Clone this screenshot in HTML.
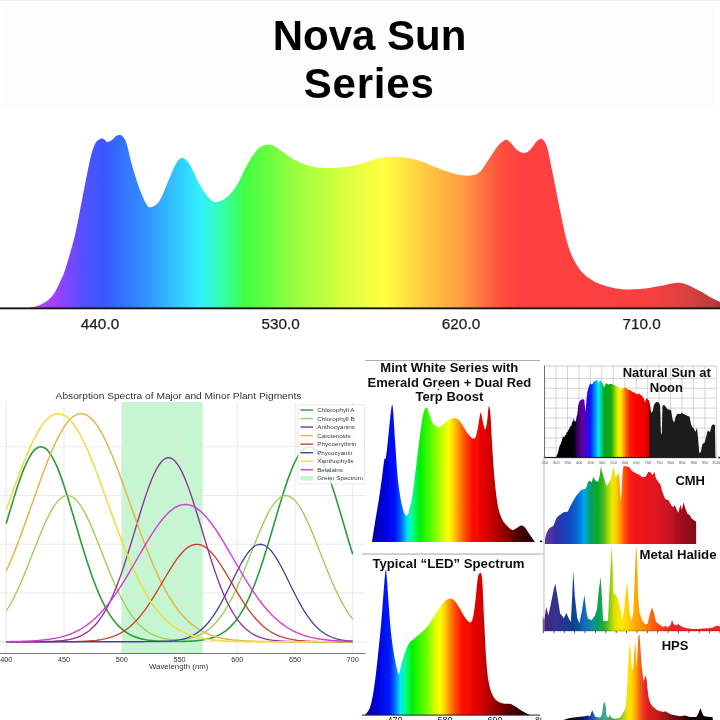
<!DOCTYPE html>
<html><head><meta charset="utf-8"><title>Nova Sun Series</title>
<style>
html,body{margin:0;padding:0;background:#fff;}
body{width:720px;height:720px;overflow:hidden;font-family:"Liberation Sans",sans-serif;}
svg{display:block;font-family:"Liberation Sans",sans-serif;}
</style></head><body>
<svg width="720" height="720" viewBox="0 0 720 720">
<defs>
<filter id="bTop" x="0" y="0" width="720" height="720" filterUnits="userSpaceOnUse"><feGaussianBlur stdDeviation="0.3"/></filter>
<filter id="bBot" x="0" y="0" width="720" height="720" filterUnits="userSpaceOnUse"><feGaussianBlur stdDeviation="0.5"/></filter>
<linearGradient id="gNova" gradientUnits="userSpaceOnUse" x1="27" y1="0" x2="720" y2="0"><stop offset="0.0000" stop-color="#c040e0"/><stop offset="0.0404" stop-color="#a040ff"/><stop offset="0.0837" stop-color="#5050ff"/><stop offset="0.1126" stop-color="#3858ff"/><stop offset="0.1775" stop-color="#3098ff"/><stop offset="0.2496" stop-color="#30f0ff"/><stop offset="0.2814" stop-color="#30ffb0"/><stop offset="0.3146" stop-color="#40ff40"/><stop offset="0.3939" stop-color="#a0ff40"/><stop offset="0.4661" stop-color="#e0ff40"/><stop offset="0.5166" stop-color="#ffff40"/><stop offset="0.5671" stop-color="#ffd040"/><stop offset="0.6248" stop-color="#ffa040"/><stop offset="0.6825" stop-color="#ff5040"/><stop offset="0.7114" stop-color="#ff4040"/><stop offset="0.8990" stop-color="#f84040"/><stop offset="0.9567" stop-color="#d84040"/><stop offset="1.0000" stop-color="#b03838"/></linearGradient>
<linearGradient id="gMint" gradientUnits="userSpaceOnUse" x1="372" y1="0" x2="536" y2="0"><stop offset="0.0000" stop-color="#0000a0"/><stop offset="0.0793" stop-color="#0000e0"/><stop offset="0.1402" stop-color="#0010ff"/><stop offset="0.1829" stop-color="#0070ff"/><stop offset="0.2134" stop-color="#00e0ff"/><stop offset="0.2439" stop-color="#00ff90"/><stop offset="0.2927" stop-color="#00f000"/><stop offset="0.3659" stop-color="#60ff00"/><stop offset="0.4451" stop-color="#e0ff00"/><stop offset="0.4695" stop-color="#ffff00"/><stop offset="0.5061" stop-color="#ffc000"/><stop offset="0.5549" stop-color="#ff6000"/><stop offset="0.6098" stop-color="#ff1000"/><stop offset="0.6890" stop-color="#e00000"/><stop offset="0.7622" stop-color="#b00000"/><stop offset="0.8415" stop-color="#700000"/><stop offset="0.9329" stop-color="#380000"/><stop offset="1.0000" stop-color="#200000"/></linearGradient>
<linearGradient id="gLed" gradientUnits="userSpaceOnUse" x1="365" y1="0" x2="530" y2="0"><stop offset="0.0000" stop-color="#0000a0"/><stop offset="0.0788" stop-color="#0000e0"/><stop offset="0.1515" stop-color="#0020ff"/><stop offset="0.1879" stop-color="#0080ff"/><stop offset="0.2121" stop-color="#00e8ff"/><stop offset="0.2424" stop-color="#00ff90"/><stop offset="0.2848" stop-color="#00f000"/><stop offset="0.3636" stop-color="#60ff00"/><stop offset="0.4303" stop-color="#e0ff00"/><stop offset="0.4545" stop-color="#ffff00"/><stop offset="0.4909" stop-color="#ffc000"/><stop offset="0.5333" stop-color="#ff6000"/><stop offset="0.5879" stop-color="#ff1000"/><stop offset="0.6848" stop-color="#e00000"/><stop offset="0.7576" stop-color="#b00000"/><stop offset="0.8364" stop-color="#700000"/><stop offset="0.9273" stop-color="#380000"/><stop offset="1.0000" stop-color="#200000"/></linearGradient>
<clipPath id="cLed"><rect x="362" y="540" width="179.5" height="180"/></clipPath>
<linearGradient id="gSun" gradientUnits="userSpaceOnUse" x1="556" y1="0" x2="716" y2="0"><stop offset="0.0000" stop-color="#000000"/><stop offset="0.1125" stop-color="#060008"/><stop offset="0.1344" stop-color="#3a0068"/><stop offset="0.1562" stop-color="#5a0098"/><stop offset="0.1812" stop-color="#5800c0"/><stop offset="0.2000" stop-color="#2808e8"/><stop offset="0.2188" stop-color="#0028ff"/><stop offset="0.2437" stop-color="#0090ff"/><stop offset="0.2656" stop-color="#00e8ff"/><stop offset="0.2812" stop-color="#00d890"/><stop offset="0.3000" stop-color="#00a828"/><stop offset="0.3438" stop-color="#18a810"/><stop offset="0.3656" stop-color="#80d000"/><stop offset="0.3875" stop-color="#e8f000"/><stop offset="0.4031" stop-color="#fff000"/><stop offset="0.4188" stop-color="#ffb000"/><stop offset="0.4344" stop-color="#ff7000"/><stop offset="0.4562" stop-color="#ff2800"/><stop offset="0.4813" stop-color="#ff0800"/><stop offset="0.5563" stop-color="#f00000"/><stop offset="0.5769" stop-color="#d80000"/><stop offset="0.5906" stop-color="#1c0404"/><stop offset="0.6000" stop-color="#1a1a1a"/><stop offset="1.0000" stop-color="#1a1a1a"/></linearGradient>
<linearGradient id="gCmh" gradientUnits="userSpaceOnUse" x1="544.9" y1="0" x2="696.2" y2="0"><stop offset="0.0000" stop-color="#6c30a4"/><stop offset="0.0271" stop-color="#5a30a4"/><stop offset="0.0601" stop-color="#3a30a4"/><stop offset="0.1064" stop-color="#2838b0"/><stop offset="0.1527" stop-color="#1048c0"/><stop offset="0.2056" stop-color="#0860d0"/><stop offset="0.2320" stop-color="#0480e0"/><stop offset="0.2551" stop-color="#00a0f0"/><stop offset="0.2716" stop-color="#00a8b8"/><stop offset="0.2915" stop-color="#00a080"/><stop offset="0.3179" stop-color="#08a048"/><stop offset="0.3510" stop-color="#10a828"/><stop offset="0.3840" stop-color="#40b818"/><stop offset="0.4171" stop-color="#a0d808"/><stop offset="0.4402" stop-color="#e0e800"/><stop offset="0.4587" stop-color="#f8e000"/><stop offset="0.4798" stop-color="#ffc000"/><stop offset="0.4997" stop-color="#ff9000"/><stop offset="0.5195" stop-color="#ff6008"/><stop offset="0.5393" stop-color="#ff3c10"/><stop offset="0.5625" stop-color="#f82018"/><stop offset="0.6021" stop-color="#f01418"/><stop offset="0.7277" stop-color="#e41820"/><stop offset="0.8136" stop-color="#c81420"/><stop offset="0.8797" stop-color="#ac1020"/><stop offset="0.9458" stop-color="#90101c"/><stop offset="1.0000" stop-color="#7c1018"/></linearGradient>
<linearGradient id="gMh" gradientUnits="userSpaceOnUse" x1="542.8" y1="0" x2="720" y2="0"><stop offset="0.0000" stop-color="#4c2080"/><stop offset="0.0293" stop-color="#3c2888"/><stop offset="0.0632" stop-color="#383090"/><stop offset="0.1084" stop-color="#283490"/><stop offset="0.1704" stop-color="#104090"/><stop offset="0.2099" stop-color="#1058a8"/><stop offset="0.2353" stop-color="#1070c0"/><stop offset="0.2607" stop-color="#1080b0"/><stop offset="0.2822" stop-color="#1090a0"/><stop offset="0.3002" stop-color="#109878"/><stop offset="0.3211" stop-color="#10a450"/><stop offset="0.3454" stop-color="#28b030"/><stop offset="0.3679" stop-color="#60c418"/><stop offset="0.3849" stop-color="#98d40c"/><stop offset="0.4018" stop-color="#d0e004"/><stop offset="0.4233" stop-color="#f4e800"/><stop offset="0.4526" stop-color="#ffe400"/><stop offset="0.4780" stop-color="#ffd000"/><stop offset="0.5260" stop-color="#ffa800"/><stop offset="0.5767" stop-color="#ff8800"/><stop offset="0.6163" stop-color="#ff6010"/><stop offset="0.6727" stop-color="#f84018"/><stop offset="0.7348" stop-color="#f02020"/><stop offset="1.0000" stop-color="#ec2020"/></linearGradient>
<linearGradient id="gHps" gradientUnits="userSpaceOnUse" x1="562" y1="0" x2="713" y2="0"><stop offset="0.0000" stop-color="#000010"/><stop offset="0.0861" stop-color="#060c30"/><stop offset="0.1523" stop-color="#0c1c68"/><stop offset="0.1854" stop-color="#1840a8"/><stop offset="0.2020" stop-color="#2050c0"/><stop offset="0.2318" stop-color="#2878b0"/><stop offset="0.2583" stop-color="#3498a0"/><stop offset="0.2808" stop-color="#40a890"/><stop offset="0.2980" stop-color="#40a870"/><stop offset="0.3179" stop-color="#40a850"/><stop offset="0.3576" stop-color="#58b438"/><stop offset="0.3841" stop-color="#80c428"/><stop offset="0.4089" stop-color="#a8d420"/><stop offset="0.4272" stop-color="#e0e008"/><stop offset="0.4421" stop-color="#ffe000"/><stop offset="0.4586" stop-color="#ffdc00"/><stop offset="0.4752" stop-color="#ffc000"/><stop offset="0.4960" stop-color="#ff9000"/><stop offset="0.5166" stop-color="#f06020"/><stop offset="0.5364" stop-color="#ec3c20"/><stop offset="0.5579" stop-color="#e82020"/><stop offset="0.5960" stop-color="#d41c1c"/><stop offset="0.6407" stop-color="#c01818"/><stop offset="0.6821" stop-color="#a01414"/><stop offset="0.7235" stop-color="#801010"/><stop offset="0.7815" stop-color="#500808"/><stop offset="0.8344" stop-color="#280404"/><stop offset="0.8874" stop-color="#080000"/><stop offset="1.0000" stop-color="#000000"/></linearGradient>
</defs>
<rect width="720" height="720" fill="#ffffff"/>
<rect x="3" y="2" width="711" height="106" fill="#fdfdfd"/>
<rect x="0" y="0" width="720" height="1" fill="#eeeeee"/>
<g filter="url(#bTop)"><path d="M24.00,308.50 C25.67,308.25 30.83,307.83 34.00,307.00 C37.17,306.17 40.33,304.92 43.00,303.50 C45.67,302.08 48.00,300.42 50.00,298.50 C52.00,296.58 53.33,294.75 55.00,292.00 C56.67,289.25 58.33,285.67 60.00,282.00 C61.67,278.33 62.50,277.83 65.00,270.00 C67.50,262.17 72.17,246.67 75.00,235.00 C77.83,223.33 79.50,212.50 82.00,200.00 C84.50,187.50 87.83,169.33 90.00,160.00 C92.17,150.67 93.33,147.50 95.00,144.00 C96.67,140.50 98.50,139.83 100.00,139.00 C101.50,138.17 102.83,138.50 104.00,139.00 C105.17,139.50 105.67,141.83 107.00,142.00 C108.33,142.17 110.50,141.00 112.00,140.00 C113.50,139.00 114.67,136.83 116.00,136.00 C117.33,135.17 118.67,134.67 120.00,135.00 C121.33,135.33 122.83,136.33 124.00,138.00 C125.17,139.67 125.67,140.50 127.00,145.00 C128.33,149.50 129.83,157.50 132.00,165.00 C134.17,172.50 137.50,183.33 140.00,190.00 C142.50,196.67 145.00,202.17 147.00,205.00 C149.00,207.83 149.83,207.83 152.00,207.00 C154.17,206.17 157.00,205.00 160.00,200.00 C163.00,195.00 167.17,183.33 170.00,177.00 C172.83,170.67 174.83,165.17 177.00,162.00 C179.17,158.83 180.83,157.50 183.00,158.00 C185.17,158.50 187.17,160.50 190.00,165.00 C192.83,169.50 196.67,179.33 200.00,185.00 C203.33,190.67 207.17,196.17 210.00,199.00 C212.83,201.83 214.17,202.33 217.00,202.00 C219.83,201.67 223.67,199.83 227.00,197.00 C230.33,194.17 233.67,190.33 237.00,185.00 C240.33,179.67 243.67,170.83 247.00,165.00 C250.33,159.17 254.00,153.33 257.00,150.00 C260.00,146.67 262.50,145.83 265.00,145.00 C267.50,144.17 269.50,144.17 272.00,145.00 C274.50,145.83 276.17,147.50 280.00,150.00 C283.83,152.50 290.00,157.33 295.00,160.00 C300.00,162.67 305.00,164.67 310.00,166.00 C315.00,167.33 319.17,167.83 325.00,168.00 C330.83,168.17 339.17,167.67 345.00,167.00 C350.83,166.33 354.17,165.50 360.00,164.00 C365.83,162.50 373.33,159.17 380.00,158.00 C386.67,156.83 393.33,156.50 400.00,157.00 C406.67,157.50 413.33,159.00 420.00,161.00 C426.67,163.00 433.33,166.67 440.00,169.00 C446.67,171.33 453.83,174.17 460.00,175.00 C466.17,175.83 472.50,176.17 477.00,174.00 C481.50,171.83 483.67,166.50 487.00,162.00 C490.33,157.50 494.00,150.67 497.00,147.00 C500.00,143.33 502.83,140.83 505.00,140.00 C507.17,139.17 508.00,140.33 510.00,142.00 C512.00,143.67 514.67,148.17 517.00,150.00 C519.33,151.83 521.83,153.00 524.00,153.00 C526.17,153.00 527.83,152.00 530.00,150.00 C532.17,148.00 535.00,142.83 537.00,141.00 C539.00,139.17 540.33,138.00 542.00,139.00 C543.67,140.00 545.33,141.83 547.00,147.00 C548.67,152.17 549.83,159.50 552.00,170.00 C554.17,180.50 557.50,198.00 560.00,210.00 C562.50,222.00 564.50,233.33 567.00,242.00 C569.50,250.67 572.00,256.50 575.00,262.00 C578.00,267.50 580.83,271.33 585.00,275.00 C589.17,278.67 594.17,281.67 600.00,284.00 C605.83,286.33 613.33,288.17 620.00,289.00 C626.67,289.83 633.33,289.50 640.00,289.00 C646.67,288.50 654.17,287.00 660.00,286.00 C665.83,285.00 670.83,283.33 675.00,283.00 C679.17,282.67 680.83,282.67 685.00,284.00 C689.17,285.33 695.83,288.83 700.00,291.00 C704.17,293.17 706.67,295.17 710.00,297.00 C713.33,298.83 718.33,301.17 720.00,302.00 L720.00,308.50 L24.00,308.50 Z" fill="url(#gNova)"/>
<rect x="0" y="307.4" width="720" height="1.9" fill="#151515"/>
<text x="100" y="328.5" font-size="15.3" text-anchor="middle" fill="#1c1c1c" stroke="#1c1c1c" stroke-width="0.25">440.0</text>
<text x="280.7" y="328.5" font-size="15.3" text-anchor="middle" fill="#1c1c1c" stroke="#1c1c1c" stroke-width="0.25">530.0</text>
<text x="461" y="328.5" font-size="15.3" text-anchor="middle" fill="#1c1c1c" stroke="#1c1c1c" stroke-width="0.25">620.0</text>
<text x="641.7" y="328.5" font-size="15.3" text-anchor="middle" fill="#1c1c1c" stroke="#1c1c1c" stroke-width="0.25">710.0</text>
<text x="369.5" y="50" font-size="42" font-weight="bold" text-anchor="middle" fill="#000">Nova Sun</text>
<text x="369.2" y="97.5" font-size="42" font-weight="bold" text-anchor="middle" fill="#000" letter-spacing="0.8">Series</text></g>
<g filter="url(#bBot)"><rect x="121.75" y="402" width="80.85" height="251.5" fill="#c6f5d2"/>
<line x1="6.25" y1="402" x2="6.25" y2="653.5" stroke="#e6e6e6" stroke-width="0.8"/>
<line x1="64.00" y1="402" x2="64.00" y2="653.5" stroke="#e6e6e6" stroke-width="0.8"/>
<line x1="121.75" y1="402" x2="121.75" y2="653.5" stroke="#e6e6e6" stroke-width="0.8"/>
<line x1="179.50" y1="402" x2="179.50" y2="653.5" stroke="#e6e6e6" stroke-width="0.8"/>
<line x1="237.25" y1="402" x2="237.25" y2="653.5" stroke="#e6e6e6" stroke-width="0.8"/>
<line x1="295.00" y1="402" x2="295.00" y2="653.5" stroke="#e6e6e6" stroke-width="0.8"/>
<line x1="352.75" y1="402" x2="352.75" y2="653.5" stroke="#e6e6e6" stroke-width="0.8"/>
<line x1="0" y1="641.75" x2="365.5" y2="641.75" stroke="#e6e6e6" stroke-width="0.8"/>
<line x1="0" y1="593.00" x2="365.5" y2="593.00" stroke="#e6e6e6" stroke-width="0.8"/>
<line x1="0" y1="544.25" x2="365.5" y2="544.25" stroke="#e6e6e6" stroke-width="0.8"/>
<line x1="0" y1="495.50" x2="365.5" y2="495.50" stroke="#e6e6e6" stroke-width="0.8"/>
<line x1="0" y1="446.75" x2="365.5" y2="446.75" stroke="#e6e6e6" stroke-width="0.8"/>
<path d="M6.25,523.48 L8.56,515.60 L10.87,507.80 L13.18,500.15 L15.49,492.73 L17.80,485.61 L20.11,478.87 L22.42,472.60 L24.73,466.87 L27.04,461.74 L29.35,457.29 L31.66,453.56 L33.97,450.61 L36.28,448.48 L38.59,447.18 L40.90,446.75 L43.21,447.18 L45.52,448.48 L47.83,450.61 L50.14,453.56 L52.45,457.29 L54.76,461.74 L57.07,466.87 L59.38,472.60 L61.69,478.87 L64.00,485.61 L66.31,492.73 L68.62,500.15 L70.93,507.80 L73.24,515.60 L75.55,523.48 L77.86,531.35 L80.17,539.16 L82.48,546.83 L84.79,554.33 L87.10,561.58 L89.41,568.56 L91.72,575.23 L94.03,581.56 L96.34,587.53 L98.65,593.13 L100.96,598.34 L103.27,603.16 L105.58,607.60 L107.89,611.66 L110.20,615.36 L112.51,618.71 L114.82,621.72 L117.13,624.41 L119.44,626.81 L121.75,628.93 L124.06,630.80 L126.37,632.44 L128.68,633.87 L130.99,635.11 L133.30,636.18 L135.61,637.10 L137.92,637.88 L140.23,638.55 L142.54,639.11 L144.85,639.58 L147.16,639.98 L149.47,640.31 L151.78,640.58 L154.09,640.80 L156.40,640.98 L158.71,641.13 L161.02,641.25 L163.33,641.34 L165.64,641.41 L167.95,641.47 L170.26,641.50 L172.57,641.52 L174.88,641.53 L177.19,641.52 L179.50,641.50 L181.81,641.47 L184.12,641.41 L186.43,641.34 L188.74,641.25 L191.05,641.13 L193.36,640.98 L195.67,640.80 L197.98,640.58 L200.29,640.31 L202.60,639.98 L204.91,639.58 L207.22,639.11 L209.53,638.55 L211.84,637.88 L214.15,637.10 L216.46,636.18 L218.77,635.11 L221.08,633.87 L223.39,632.44 L225.70,630.80 L228.01,628.93 L230.32,626.81 L232.63,624.41 L234.94,621.72 L237.25,618.71 L239.56,615.36 L241.87,611.66 L244.18,607.60 L246.49,603.16 L248.80,598.34 L251.11,593.13 L253.42,587.53 L255.73,581.56 L258.04,575.23 L260.35,568.56 L262.66,561.58 L264.97,554.33 L267.28,546.83 L269.59,539.16 L271.90,531.35 L274.21,523.48 L276.52,515.60 L278.83,507.80 L281.14,500.15 L283.45,492.73 L285.76,485.61 L288.07,478.87 L290.38,472.60 L292.69,466.87 L295.00,461.74 L297.31,457.29 L299.62,453.56 L301.93,450.61 L304.24,448.48 L306.55,447.18 L308.86,446.75 L311.17,447.18 L313.48,448.48 L315.79,450.61 L318.10,453.56 L320.41,457.29 L322.72,461.74 L325.03,466.87 L327.34,472.60 L329.65,478.87 L331.96,485.61 L334.27,492.73 L336.58,500.15 L338.89,507.80 L341.20,515.60 L343.51,523.48 L345.82,531.35 L348.13,539.16 L350.44,546.83 L352.75,554.33" fill="none" stroke="#2a9d3a" stroke-width="1.6"/>
<path d="M6.25,611.03 L8.56,607.27 L10.87,603.22 L13.18,598.88 L15.49,594.27 L17.80,589.39 L20.11,584.27 L22.42,578.93 L24.73,573.39 L27.04,567.70 L29.35,561.89 L31.66,556.00 L33.97,550.09 L36.28,544.20 L38.59,538.40 L40.90,532.74 L43.21,527.28 L45.52,522.08 L47.83,517.19 L50.14,512.68 L52.45,508.61 L54.76,505.01 L57.07,501.94 L59.38,499.43 L61.69,497.52 L64.00,496.23 L66.31,495.58 L68.62,495.58 L70.93,496.23 L73.24,497.52 L75.55,499.43 L77.86,501.94 L80.17,505.01 L82.48,508.61 L84.79,512.68 L87.10,517.19 L89.41,522.08 L91.72,527.28 L94.03,532.74 L96.34,538.40 L98.65,544.20 L100.96,550.09 L103.27,556.00 L105.58,561.89 L107.89,567.70 L110.20,573.39 L112.51,578.93 L114.82,584.27 L117.13,589.39 L119.44,594.27 L121.75,598.88 L124.06,603.22 L126.37,607.27 L128.68,611.03 L130.99,614.50 L133.30,617.69 L135.61,620.59 L137.92,623.23 L140.23,625.60 L142.54,627.73 L144.85,629.63 L147.16,631.32 L149.47,632.80 L151.78,634.09 L154.09,635.22 L156.40,636.19 L158.71,637.01 L161.02,637.71 L163.33,638.28 L165.64,638.75 L167.95,639.12 L170.26,639.39 L172.57,639.58 L174.88,639.68 L177.19,639.70 L179.50,639.64 L181.81,639.49 L184.12,639.26 L186.43,638.94 L188.74,638.53 L191.05,638.01 L193.36,637.37 L195.67,636.61 L197.98,635.72 L200.29,634.68 L202.60,633.47 L204.91,632.08 L207.22,630.50 L209.53,628.71 L211.84,626.70 L214.15,624.45 L216.46,621.94 L218.77,619.17 L221.08,616.13 L223.39,612.80 L225.70,609.19 L228.01,605.28 L230.32,601.08 L232.63,596.61 L234.94,591.86 L237.25,586.86 L239.56,581.62 L241.87,576.18 L244.18,570.56 L246.49,564.80 L248.80,558.95 L251.11,553.04 L253.42,547.14 L255.73,541.29 L258.04,535.55 L260.35,529.98 L262.66,524.64 L264.97,519.59 L267.28,514.89 L269.59,510.59 L271.90,506.74 L274.21,503.40 L276.52,500.61 L278.83,498.40 L281.14,496.79 L283.45,495.82 L285.76,495.50 L288.07,495.82 L290.38,496.79 L292.69,498.40 L295.00,500.61 L297.31,503.40 L299.62,506.74 L301.93,510.59 L304.24,514.89 L306.55,519.59 L308.86,524.64 L311.17,529.98 L313.48,535.55 L315.79,541.29 L318.10,547.14 L320.41,553.04 L322.72,558.95 L325.03,564.80 L327.34,570.56 L329.65,576.18 L331.96,581.62 L334.27,586.86 L336.58,591.86 L338.89,596.61 L341.20,601.09 L343.51,605.28 L345.82,609.19 L348.13,612.81 L350.44,616.14 L352.75,619.18" fill="none" stroke="#9acd50" stroke-width="1.3"/>
<path d="M6.25,641.75 L8.56,641.75 L10.87,641.75 L13.18,641.75 L15.49,641.74 L17.80,641.74 L20.11,641.74 L22.42,641.74 L24.73,641.73 L27.04,641.73 L29.35,641.72 L31.66,641.71 L33.97,641.69 L36.28,641.67 L38.59,641.65 L40.90,641.62 L43.21,641.58 L45.52,641.53 L47.83,641.47 L50.14,641.39 L52.45,641.30 L54.76,641.17 L57.07,641.02 L59.38,640.84 L61.69,640.61 L64.00,640.34 L66.31,640.00 L68.62,639.60 L70.93,639.11 L73.24,638.53 L75.55,637.84 L77.86,637.03 L80.17,636.08 L82.48,634.96 L84.79,633.66 L87.10,632.17 L89.41,630.44 L91.72,628.47 L94.03,626.24 L96.34,623.71 L98.65,620.87 L100.96,617.69 L103.27,614.17 L105.58,610.27 L107.89,606.00 L110.20,601.35 L112.51,596.30 L114.82,590.86 L117.13,585.05 L119.44,578.87 L121.75,572.35 L124.06,565.51 L126.37,558.40 L128.68,551.06 L130.99,543.54 L133.30,535.90 L135.61,528.21 L137.92,520.53 L140.23,512.95 L142.54,505.55 L144.85,498.41 L147.16,491.60 L149.47,485.22 L151.78,479.34 L154.09,474.04 L156.40,469.39 L158.71,465.46 L161.02,462.28 L163.33,459.92 L165.64,458.40 L167.95,457.75 L170.26,457.96 L172.57,459.05 L174.88,461.00 L177.19,463.77 L179.50,467.33 L181.81,471.63 L184.12,476.62 L186.43,482.21 L188.74,488.35 L191.05,494.96 L193.36,501.94 L195.67,509.22 L197.98,516.73 L200.29,524.36 L202.60,532.05 L204.91,539.73 L207.22,547.32 L209.53,554.76 L211.84,561.99 L214.15,568.97 L216.46,575.65 L218.77,582.00 L221.08,588.00 L223.39,593.63 L225.70,598.87 L228.01,603.72 L230.32,608.19 L232.63,612.27 L234.94,615.97 L237.25,619.32 L239.56,622.33 L241.87,625.01 L244.18,627.39 L246.49,629.49 L248.80,631.33 L251.11,632.94 L253.42,634.34 L255.73,635.54 L258.04,636.57 L260.35,637.45 L262.66,638.20 L264.97,638.83 L267.28,639.37 L269.59,639.81 L271.90,640.18 L274.21,640.48 L276.52,640.73 L278.83,640.94 L281.14,641.10 L283.45,641.24 L285.76,641.35 L288.07,641.43 L290.38,641.50 L292.69,641.56 L295.00,641.60 L297.31,641.64 L299.62,641.66 L301.93,641.68 L304.24,641.70 L306.55,641.71 L308.86,641.72 L311.17,641.73 L313.48,641.73 L315.79,641.74 L318.10,641.74 L320.41,641.74 L322.72,641.75 L325.03,641.75 L327.34,641.75 L329.65,641.75 L331.96,641.75 L334.27,641.75 L336.58,641.75 L338.89,641.75 L341.20,641.75 L343.51,641.75 L345.82,641.75 L348.13,641.75 L350.44,641.75 L352.75,641.75" fill="none" stroke="#8b2f8b" stroke-width="1.3"/>
<path d="M6.25,571.18 L8.56,565.96 L10.87,560.54 L13.18,554.93 L15.49,549.13 L17.80,543.17 L20.11,537.06 L22.42,530.82 L24.73,524.47 L27.04,518.04 L29.35,511.54 L31.66,505.01 L33.97,498.47 L36.28,491.95 L38.59,485.48 L40.90,479.10 L43.21,472.84 L45.52,466.73 L47.83,460.80 L50.14,455.09 L52.45,449.63 L54.76,444.45 L57.07,439.58 L59.38,435.06 L61.69,430.90 L64.00,427.15 L66.31,423.81 L68.62,420.92 L70.93,418.48 L73.24,416.53 L75.55,415.06 L77.86,414.10 L80.17,413.64 L82.48,413.69 L84.79,414.25 L87.10,415.32 L89.41,416.88 L91.72,418.93 L94.03,421.46 L96.34,424.44 L98.65,427.86 L100.96,431.70 L103.27,435.93 L105.58,440.53 L107.89,445.46 L110.20,450.70 L112.51,456.21 L114.82,461.97 L117.13,467.94 L119.44,474.08 L121.75,480.37 L124.06,486.77 L126.37,493.25 L128.68,499.77 L130.99,506.31 L133.30,512.84 L135.61,519.33 L137.92,525.75 L140.23,532.08 L142.54,538.30 L144.85,544.38 L147.16,550.31 L149.47,556.07 L151.78,561.64 L154.09,567.02 L156.40,572.20 L158.71,577.16 L161.02,581.90 L163.33,586.42 L165.64,590.71 L167.95,594.77 L170.26,598.60 L172.57,602.22 L174.88,605.61 L177.19,608.78 L179.50,611.74 L181.81,614.50 L184.12,617.06 L186.43,619.42 L188.74,621.61 L191.05,623.62 L193.36,625.47 L195.67,627.16 L197.98,628.71 L200.29,630.12 L202.60,631.40 L204.91,632.55 L207.22,633.60 L209.53,634.55 L211.84,635.40 L214.15,636.16 L216.46,636.84 L218.77,637.45 L221.08,637.99 L223.39,638.47 L225.70,638.89 L228.01,639.27 L230.32,639.60 L232.63,639.89 L234.94,640.15 L237.25,640.37 L239.56,640.56 L241.87,640.73 L244.18,640.88 L246.49,641.01 L248.80,641.12 L251.11,641.21 L253.42,641.30 L255.73,641.37 L258.04,641.43 L260.35,641.48 L262.66,641.52 L264.97,641.56 L267.28,641.59 L269.59,641.62 L271.90,641.64 L274.21,641.66 L276.52,641.67 L278.83,641.69 L281.14,641.70 L283.45,641.71 L285.76,641.71 L288.07,641.72 L290.38,641.73 L292.69,641.73 L295.00,641.73 L297.31,641.74 L299.62,641.74 L301.93,641.74 L304.24,641.74 L306.55,641.74 L308.86,641.75 L311.17,641.75 L313.48,641.75 L315.79,641.75 L318.10,641.75 L320.41,641.75 L322.72,641.75 L325.03,641.75 L327.34,641.75 L329.65,641.75 L331.96,641.75 L334.27,641.75 L336.58,641.75 L338.89,641.75 L341.20,641.75 L343.51,641.75 L345.82,641.75 L348.13,641.75 L350.44,641.75 L352.75,641.75" fill="none" stroke="#e3b450" stroke-width="1.5"/>
<path d="M6.25,641.75 L8.56,641.75 L10.87,641.75 L13.18,641.75 L15.49,641.75 L17.80,641.75 L20.11,641.75 L22.42,641.75 L24.73,641.75 L27.04,641.75 L29.35,641.75 L31.66,641.75 L33.97,641.75 L36.28,641.75 L38.59,641.75 L40.90,641.75 L43.21,641.74 L45.52,641.74 L47.83,641.74 L50.14,641.74 L52.45,641.73 L54.76,641.73 L57.07,641.72 L59.38,641.71 L61.69,641.70 L64.00,641.69 L66.31,641.67 L68.62,641.65 L70.93,641.62 L73.24,641.58 L75.55,641.54 L77.86,641.48 L80.17,641.41 L82.48,641.33 L84.79,641.23 L87.10,641.10 L89.41,640.95 L91.72,640.77 L94.03,640.55 L96.34,640.30 L98.65,639.99 L100.96,639.63 L103.27,639.20 L105.58,638.71 L107.89,638.13 L110.20,637.47 L112.51,636.70 L114.82,635.82 L117.13,634.83 L119.44,633.70 L121.75,632.43 L124.06,631.00 L126.37,629.41 L128.68,627.65 L130.99,625.71 L133.30,623.59 L135.61,621.27 L137.92,618.76 L140.23,616.06 L142.54,613.17 L144.85,610.10 L147.16,606.84 L149.47,603.43 L151.78,599.87 L154.09,596.18 L156.40,592.38 L158.71,588.51 L161.02,584.58 L163.33,580.64 L165.64,576.72 L167.95,572.85 L170.26,569.08 L172.57,565.44 L174.88,561.97 L177.19,558.71 L179.50,555.71 L181.81,552.99 L184.12,550.59 L186.43,548.54 L188.74,546.87 L191.05,545.59 L193.36,544.74 L195.67,544.30 L197.98,544.30 L200.29,544.74 L202.60,545.59 L204.91,546.87 L207.22,548.54 L209.53,550.59 L211.84,552.99 L214.15,555.71 L216.46,558.71 L218.77,561.97 L221.08,565.44 L223.39,569.08 L225.70,572.85 L228.01,576.72 L230.32,580.64 L232.63,584.58 L234.94,588.51 L237.25,592.38 L239.56,596.18 L241.87,599.87 L244.18,603.43 L246.49,606.84 L248.80,610.10 L251.11,613.17 L253.42,616.06 L255.73,618.76 L258.04,621.27 L260.35,623.59 L262.66,625.71 L264.97,627.65 L267.28,629.41 L269.59,631.00 L271.90,632.43 L274.21,633.70 L276.52,634.83 L278.83,635.82 L281.14,636.70 L283.45,637.47 L285.76,638.13 L288.07,638.71 L290.38,639.20 L292.69,639.63 L295.00,639.99 L297.31,640.30 L299.62,640.55 L301.93,640.77 L304.24,640.95 L306.55,641.10 L308.86,641.23 L311.17,641.33 L313.48,641.41 L315.79,641.48 L318.10,641.54 L320.41,641.58 L322.72,641.62 L325.03,641.65 L327.34,641.67 L329.65,641.69 L331.96,641.70 L334.27,641.71 L336.58,641.72 L338.89,641.73 L341.20,641.73 L343.51,641.74 L345.82,641.74 L348.13,641.74 L350.44,641.74 L352.75,641.75" fill="none" stroke="#c8402c" stroke-width="1.3"/>
<path d="M6.25,641.75 L8.56,641.75 L10.87,641.75 L13.18,641.75 L15.49,641.75 L17.80,641.75 L20.11,641.75 L22.42,641.75 L24.73,641.75 L27.04,641.75 L29.35,641.75 L31.66,641.75 L33.97,641.75 L36.28,641.75 L38.59,641.75 L40.90,641.75 L43.21,641.75 L45.52,641.75 L47.83,641.75 L50.14,641.75 L52.45,641.75 L54.76,641.75 L57.07,641.75 L59.38,641.75 L61.69,641.75 L64.00,641.75 L66.31,641.75 L68.62,641.75 L70.93,641.75 L73.24,641.75 L75.55,641.75 L77.86,641.75 L80.17,641.75 L82.48,641.75 L84.79,641.75 L87.10,641.75 L89.41,641.75 L91.72,641.75 L94.03,641.75 L96.34,641.75 L98.65,641.75 L100.96,641.75 L103.27,641.75 L105.58,641.75 L107.89,641.75 L110.20,641.75 L112.51,641.75 L114.82,641.75 L117.13,641.75 L119.44,641.75 L121.75,641.75 L124.06,641.75 L126.37,641.75 L128.68,641.75 L130.99,641.75 L133.30,641.74 L135.61,641.74 L137.92,641.74 L140.23,641.73 L142.54,641.73 L144.85,641.72 L147.16,641.71 L149.47,641.69 L151.78,641.67 L154.09,641.64 L156.40,641.60 L158.71,641.55 L161.02,641.49 L163.33,641.41 L165.64,641.30 L167.95,641.17 L170.26,641.00 L172.57,640.79 L174.88,640.53 L177.19,640.21 L179.50,639.82 L181.81,639.34 L184.12,638.76 L186.43,638.07 L188.74,637.25 L191.05,636.28 L193.36,635.14 L195.67,633.82 L197.98,632.29 L200.29,630.54 L202.60,628.55 L204.91,626.31 L207.22,623.81 L209.53,621.03 L211.84,617.97 L214.15,614.64 L216.46,611.04 L218.77,607.18 L221.08,603.08 L223.39,598.77 L225.70,594.29 L228.01,589.68 L230.32,584.98 L232.63,580.25 L234.94,575.55 L237.25,570.95 L239.56,566.51 L241.87,562.31 L244.18,558.40 L246.49,554.86 L248.80,551.75 L251.11,549.12 L253.42,547.02 L255.73,545.49 L258.04,544.56 L260.35,544.25 L262.66,544.56 L264.97,545.49 L267.28,547.02 L269.59,549.12 L271.90,551.75 L274.21,554.86 L276.52,558.40 L278.83,562.31 L281.14,566.51 L283.45,570.95 L285.76,575.55 L288.07,580.25 L290.38,584.98 L292.69,589.68 L295.00,594.29 L297.31,598.77 L299.62,603.08 L301.93,607.18 L304.24,611.04 L306.55,614.64 L308.86,617.97 L311.17,621.03 L313.48,623.81 L315.79,626.31 L318.10,628.55 L320.41,630.54 L322.72,632.29 L325.03,633.82 L327.34,635.14 L329.65,636.28 L331.96,637.25 L334.27,638.07 L336.58,638.76 L338.89,639.34 L341.20,639.82 L343.51,640.21 L345.82,640.53 L348.13,640.79 L350.44,641.00 L352.75,641.17" fill="none" stroke="#4a3f98" stroke-width="1.3"/>
<path d="M6.25,509.80 L8.56,503.37 L10.87,496.94 L13.18,490.54 L15.49,484.19 L17.80,477.93 L20.11,471.80 L22.42,465.81 L24.73,460.01 L27.04,454.42 L29.35,449.08 L31.66,444.01 L33.97,439.25 L36.28,434.82 L38.59,430.75 L40.90,427.07 L43.21,423.79 L45.52,420.94 L47.83,418.54 L50.14,416.60 L52.45,415.14 L54.76,414.15 L57.07,413.66 L59.38,413.66 L61.69,414.15 L64.00,415.14 L66.31,416.60 L68.62,418.54 L70.93,420.94 L73.24,423.79 L75.55,427.07 L77.86,430.75 L80.17,434.82 L82.48,439.25 L84.79,444.01 L87.10,449.08 L89.41,454.42 L91.72,460.01 L94.03,465.81 L96.34,471.80 L98.65,477.93 L100.96,484.19 L103.27,490.54 L105.58,496.94 L107.89,503.37 L110.20,509.80 L112.51,516.21 L114.82,522.56 L117.13,528.83 L119.44,535.01 L121.75,541.07 L124.06,546.98 L126.37,552.75 L128.68,558.34 L130.99,563.75 L133.30,568.97 L135.61,573.98 L137.92,578.79 L140.23,583.38 L142.54,587.75 L144.85,591.91 L147.16,595.84 L149.47,599.55 L151.78,603.05 L154.09,606.34 L156.40,609.41 L158.71,612.28 L161.02,614.96 L163.33,617.44 L165.64,619.75 L167.95,621.87 L170.26,623.83 L172.57,625.64 L174.88,627.29 L177.19,628.80 L179.50,630.18 L181.81,631.43 L184.12,632.57 L186.43,633.60 L188.74,634.53 L191.05,635.37 L193.36,636.12 L195.67,636.79 L197.98,637.40 L200.29,637.94 L202.60,638.41 L204.91,638.84 L207.22,639.22 L209.53,639.55 L211.84,639.84 L214.15,640.10 L216.46,640.32 L218.77,640.52 L221.08,640.69 L223.39,640.84 L225.70,640.98 L228.01,641.09 L230.32,641.19 L232.63,641.27 L234.94,641.34 L237.25,641.41 L239.56,641.46 L241.87,641.50 L244.18,641.54 L246.49,641.58 L248.80,641.61 L251.11,641.63 L253.42,641.65 L255.73,641.67 L258.04,641.68 L260.35,641.69 L262.66,641.70 L264.97,641.71 L267.28,641.72 L269.59,641.72 L271.90,641.73 L274.21,641.73 L276.52,641.74 L278.83,641.74 L281.14,641.74 L283.45,641.74 L285.76,641.74 L288.07,641.74 L290.38,641.75 L292.69,641.75 L295.00,641.75 L297.31,641.75 L299.62,641.75 L301.93,641.75 L304.24,641.75 L306.55,641.75 L308.86,641.75 L311.17,641.75 L313.48,641.75 L315.79,641.75 L318.10,641.75 L320.41,641.75 L322.72,641.75 L325.03,641.75 L327.34,641.75 L329.65,641.75 L331.96,641.75 L334.27,641.75 L336.58,641.75 L338.89,641.75 L341.20,641.75 L343.51,641.75 L345.82,641.75 L348.13,641.75 L350.44,641.75 L352.75,641.75" fill="none" stroke="#f0dd45" stroke-width="1.6"/>
<path d="M6.25,641.62 L8.56,641.60 L10.87,641.57 L13.18,641.53 L15.49,641.49 L17.80,641.44 L20.11,641.39 L22.42,641.32 L24.73,641.25 L27.04,641.16 L29.35,641.06 L31.66,640.94 L33.97,640.81 L36.28,640.66 L38.59,640.48 L40.90,640.28 L43.21,640.05 L45.52,639.79 L47.83,639.50 L50.14,639.17 L52.45,638.80 L54.76,638.38 L57.07,637.91 L59.38,637.39 L61.69,636.81 L64.00,636.16 L66.31,635.44 L68.62,634.65 L70.93,633.78 L73.24,632.81 L75.55,631.76 L77.86,630.61 L80.17,629.35 L82.48,627.99 L84.79,626.51 L87.10,624.90 L89.41,623.18 L91.72,621.32 L94.03,619.33 L96.34,617.21 L98.65,614.94 L100.96,612.54 L103.27,609.99 L105.58,607.30 L107.89,604.47 L110.20,601.50 L112.51,598.40 L114.82,595.16 L117.13,591.80 L119.44,588.32 L121.75,584.73 L124.06,581.04 L126.37,577.26 L128.68,573.40 L130.99,569.48 L133.30,565.52 L135.61,561.52 L137.92,557.51 L140.23,553.51 L142.54,549.53 L144.85,545.59 L147.16,541.72 L149.47,537.93 L151.78,534.25 L154.09,530.69 L156.40,527.29 L158.71,524.06 L161.02,521.01 L163.33,518.17 L165.64,515.56 L167.95,513.20 L170.26,511.09 L172.57,509.26 L174.88,507.71 L177.19,506.46 L179.50,505.51 L181.81,504.88 L184.12,504.56 L186.43,504.56 L188.74,504.88 L191.05,505.51 L193.36,506.46 L195.67,507.71 L197.98,509.26 L200.29,511.09 L202.60,513.20 L204.91,515.56 L207.22,518.17 L209.53,521.01 L211.84,524.06 L214.15,527.29 L216.46,530.69 L218.77,534.25 L221.08,537.93 L223.39,541.72 L225.70,545.59 L228.01,549.53 L230.32,553.51 L232.63,557.51 L234.94,561.52 L237.25,565.52 L239.56,569.48 L241.87,573.40 L244.18,577.26 L246.49,581.04 L248.80,584.73 L251.11,588.32 L253.42,591.80 L255.73,595.16 L258.04,598.40 L260.35,601.50 L262.66,604.47 L264.97,607.30 L267.28,609.99 L269.59,612.54 L271.90,614.94 L274.21,617.21 L276.52,619.33 L278.83,621.32 L281.14,623.18 L283.45,624.90 L285.76,626.51 L288.07,627.99 L290.38,629.35 L292.69,630.61 L295.00,631.76 L297.31,632.81 L299.62,633.78 L301.93,634.65 L304.24,635.44 L306.55,636.16 L308.86,636.81 L311.17,637.39 L313.48,637.91 L315.79,638.38 L318.10,638.80 L320.41,639.17 L322.72,639.50 L325.03,639.79 L327.34,640.05 L329.65,640.28 L331.96,640.48 L334.27,640.66 L336.58,640.81 L338.89,640.94 L341.20,641.06 L343.51,641.16 L345.82,641.25 L348.13,641.32 L350.44,641.39 L352.75,641.44" fill="none" stroke="#d63ad6" stroke-width="1.4"/>
<line x1="0" y1="653.5" x2="365.5" y2="653.5" stroke="#555" stroke-width="0.8"/>
<text x="6.25" y="662" font-size="6.6" text-anchor="middle" fill="#333" textLength="12.2" lengthAdjust="spacingAndGlyphs">400</text>
<text x="64.00" y="662" font-size="6.6" text-anchor="middle" fill="#333" textLength="12.2" lengthAdjust="spacingAndGlyphs">450</text>
<text x="121.75" y="662" font-size="6.6" text-anchor="middle" fill="#333" textLength="12.2" lengthAdjust="spacingAndGlyphs">500</text>
<text x="179.50" y="662" font-size="6.6" text-anchor="middle" fill="#333" textLength="12.2" lengthAdjust="spacingAndGlyphs">550</text>
<text x="237.25" y="662" font-size="6.6" text-anchor="middle" fill="#333" textLength="12.2" lengthAdjust="spacingAndGlyphs">600</text>
<text x="295.00" y="662" font-size="6.6" text-anchor="middle" fill="#333" textLength="12.2" lengthAdjust="spacingAndGlyphs">650</text>
<text x="352.75" y="662" font-size="6.6" text-anchor="middle" fill="#333" textLength="12.2" lengthAdjust="spacingAndGlyphs">700</text>
<text x="178.7" y="669.3" font-size="6.6" text-anchor="middle" fill="#333" textLength="59.5" lengthAdjust="spacingAndGlyphs">Wavelength (nm)</text>
<text x="178.5" y="399.4" font-size="9.7" text-anchor="middle" fill="#333" textLength="245.8" lengthAdjust="spacingAndGlyphs">Absorption Spectra of Major and Minor Plant Pigments</text>
<rect x="298" y="404.8" width="66.6" height="79" fill="#fff" fill-opacity="0.82" stroke="#d9d9d9" stroke-width="0.6" rx="1.5"/>
<line x1="300.5" y1="410.00" x2="313" y2="410.00" stroke="#2a9d3a" stroke-width="1.4"/>
<text x="317.2" y="412.10" font-size="6" fill="#3a3a3a" textLength="37.4" lengthAdjust="spacingAndGlyphs">Chlorophyll A</text>
<line x1="300.5" y1="418.54" x2="313" y2="418.54" stroke="#9acd50" stroke-width="1.4"/>
<text x="317.2" y="420.64" font-size="6" fill="#3a3a3a" textLength="37.4" lengthAdjust="spacingAndGlyphs">Chlorophyll B</text>
<line x1="300.5" y1="427.08" x2="313" y2="427.08" stroke="#8b2f8b" stroke-width="1.4"/>
<text x="317.2" y="429.18" font-size="6" fill="#3a3a3a" textLength="37.8" lengthAdjust="spacingAndGlyphs">Anthocyanins</text>
<line x1="300.5" y1="435.62" x2="313" y2="435.62" stroke="#e3b450" stroke-width="1.4"/>
<text x="317.2" y="437.72" font-size="6" fill="#3a3a3a" textLength="33.5" lengthAdjust="spacingAndGlyphs">Carotenoids</text>
<line x1="300.5" y1="444.16" x2="313" y2="444.16" stroke="#c8402c" stroke-width="1.4"/>
<text x="317.2" y="446.26" font-size="6" fill="#3a3a3a" textLength="39.2" lengthAdjust="spacingAndGlyphs">Phycoerythrin</text>
<line x1="300.5" y1="452.70" x2="313" y2="452.70" stroke="#4a3f98" stroke-width="1.4"/>
<text x="317.2" y="454.80" font-size="6" fill="#3a3a3a" textLength="35.2" lengthAdjust="spacingAndGlyphs">Phycocyanin</text>
<line x1="300.5" y1="461.24" x2="313" y2="461.24" stroke="#f0dd45" stroke-width="1.4"/>
<text x="317.2" y="463.34" font-size="6" fill="#3a3a3a" textLength="36.2" lengthAdjust="spacingAndGlyphs">Xanthophylls</text>
<line x1="300.5" y1="469.78" x2="313" y2="469.78" stroke="#d63ad6" stroke-width="1.4"/>
<text x="317.2" y="471.88" font-size="6" fill="#3a3a3a" textLength="25.8" lengthAdjust="spacingAndGlyphs">Betalains</text>
<rect x="300.5" y="476.02" width="12.5" height="4.6" fill="#c6f5d2"/>
<text x="317.2" y="480.42" font-size="6" fill="#3a3a3a" textLength="45.8" lengthAdjust="spacingAndGlyphs">Green Spectrum</text>
<path d="M372.00,542.00 C372.50,538.75 373.88,529.50 375.00,522.50 C376.12,515.50 377.58,507.50 378.75,500.00 C379.92,492.50 381.08,484.17 382.00,477.50 C382.92,470.83 383.62,463.25 384.25,460.00 C384.88,456.75 385.21,460.50 385.75,458.00 C386.29,455.50 386.79,451.33 387.50,445.00 C388.21,438.67 389.25,426.67 390.00,420.00 C390.75,413.33 391.46,406.25 392.00,405.00 C392.54,403.75 392.75,406.67 393.25,412.50 C393.75,418.33 394.29,429.58 395.00,440.00 C395.71,450.42 396.67,465.83 397.50,475.00 C398.33,484.17 399.17,489.58 400.00,495.00 C400.83,500.42 401.67,504.25 402.50,507.50 C403.33,510.75 404.29,513.17 405.00,514.50 C405.71,515.83 406.12,515.83 406.75,515.50 C407.38,515.17 407.79,515.92 408.75,512.50 C409.71,509.08 411.25,502.92 412.50,495.00 C413.75,487.08 415.00,475.00 416.25,465.00 C417.50,455.00 418.88,443.33 420.00,435.00 C421.12,426.67 422.08,419.50 423.00,415.00 C423.92,410.50 424.75,408.96 425.50,408.00 C426.25,407.04 426.75,407.88 427.50,409.25 C428.25,410.62 429.17,414.04 430.00,416.25 C430.83,418.46 431.46,420.83 432.50,422.50 C433.54,424.17 435.00,425.50 436.25,426.25 C437.50,427.00 438.54,427.62 440.00,427.00 C441.46,426.38 443.33,423.79 445.00,422.50 C446.67,421.21 448.42,420.00 450.00,419.25 C451.58,418.50 453.04,417.88 454.50,418.00 C455.96,418.12 457.42,418.83 458.75,420.00 C460.08,421.17 461.25,423.12 462.50,425.00 C463.75,426.88 465.00,429.38 466.25,431.25 C467.50,433.12 468.75,435.00 470.00,436.25 C471.25,437.50 472.71,438.96 473.75,438.75 C474.79,438.54 475.42,437.71 476.25,435.00 C477.08,432.29 478.00,426.25 478.75,422.50 C479.50,418.75 480.12,412.92 480.75,412.50 C481.38,412.08 481.79,417.17 482.50,420.00 C483.21,422.83 484.25,429.08 485.00,429.50 C485.75,429.92 486.46,425.75 487.00,422.50 C487.54,419.25 487.88,412.71 488.25,410.00 C488.62,407.29 488.88,405.42 489.25,406.25 C489.62,407.08 490.04,408.96 490.50,415.00 C490.96,421.04 491.46,433.33 492.00,442.50 C492.54,451.67 493.04,461.25 493.75,470.00 C494.46,478.75 495.42,488.33 496.25,495.00 C497.08,501.67 497.71,505.83 498.75,510.00 C499.79,514.17 501.04,517.29 502.50,520.00 C503.96,522.71 505.83,524.58 507.50,526.25 C509.17,527.92 510.83,529.79 512.50,530.00 C514.17,530.21 516.04,528.25 517.50,527.50 C518.96,526.75 520.00,525.50 521.25,525.50 C522.50,525.50 523.54,525.92 525.00,527.50 C526.46,529.08 528.33,532.58 530.00,535.00 C531.67,537.42 534.17,540.83 535.00,542.00 L535.00,542.00 L372.00,542.00 Z" fill="url(#gMint)"/>
<text x="449.30" y="371.80" font-size="13" font-weight="bold" text-anchor="middle" fill="#111">Mint White Series with</text>
<text x="449.40" y="386.60" font-size="13" font-weight="bold" text-anchor="middle" fill="#111">Emerald Green + Dual Red</text>
<text x="449.40" y="401.40" font-size="13" font-weight="bold" text-anchor="middle" fill="#111">Terp Boost</text>
<circle cx="438.3" cy="389.5" r="0.9" fill="#e02020"/>
<rect x="365" y="360.2" width="175" height="0.8" fill="#9a9a9a"/>
<rect x="362" y="553.6" width="178" height="0.9" fill="#9a9a9a"/>
<path d="M365.00,715.00 C365.83,713.75 368.54,711.67 370.00,707.50 C371.46,703.33 372.50,697.92 373.75,690.00 C375.00,682.08 376.25,671.25 377.50,660.00 C378.75,648.75 380.21,634.17 381.25,622.50 C382.29,610.83 383.00,598.75 383.75,590.00 C384.50,581.25 385.21,571.67 385.75,570.00 C386.29,568.33 386.50,574.17 387.00,580.00 C387.50,585.83 388.04,595.83 388.75,605.00 C389.46,614.17 390.21,625.83 391.25,635.00 C392.29,644.17 393.75,653.54 395.00,660.00 C396.25,666.46 397.71,672.92 398.75,673.75 C399.79,674.58 400.21,668.54 401.25,665.00 C402.29,661.46 403.75,656.04 405.00,652.50 C406.25,648.96 407.50,645.83 408.75,643.75 C410.00,641.67 410.62,641.67 412.50,640.00 C414.38,638.33 417.50,636.04 420.00,633.75 C422.50,631.46 425.00,629.38 427.50,626.25 C430.00,623.12 432.50,618.75 435.00,615.00 C437.50,611.25 440.42,606.38 442.50,603.75 C444.58,601.12 446.04,600.08 447.50,599.25 C448.96,598.42 450.00,598.42 451.25,598.75 C452.50,599.08 453.54,599.58 455.00,601.25 C456.46,602.92 458.33,606.04 460.00,608.75 C461.67,611.46 463.33,615.21 465.00,617.50 C466.67,619.79 468.67,622.50 470.00,622.50 C471.33,622.50 472.08,621.25 473.00,617.50 C473.92,613.75 474.75,606.25 475.50,600.00 C476.25,593.75 476.88,584.38 477.50,580.00 C478.12,575.62 478.62,574.79 479.25,573.75 C479.88,572.71 480.71,571.88 481.25,573.75 C481.79,575.62 482.00,576.88 482.50,585.00 C483.00,593.12 483.62,610.00 484.25,622.50 C484.88,635.00 485.50,650.00 486.25,660.00 C487.00,670.00 487.71,676.67 488.75,682.50 C489.79,688.33 491.04,691.88 492.50,695.00 C493.96,698.12 495.42,699.79 497.50,701.25 C499.58,702.71 502.92,703.33 505.00,703.75 C507.08,704.17 508.33,703.33 510.00,703.75 C511.67,704.17 512.92,705.00 515.00,706.25 C517.08,707.50 520.00,709.79 522.50,711.25 C525.00,712.71 528.75,714.38 530.00,715.00 L530.00,715.00 L365.00,715.00 Z" fill="url(#gLed)"/>
<rect x="362" y="714.6" width="178" height="1" fill="#222"/>
<text x="448.5" y="567.5" font-size="13.2" font-weight="bold" text-anchor="middle" fill="#111">Typical “LED” Spectrum</text>
<text x="395" y="722.6" font-size="9" text-anchor="middle" fill="#222" clip-path="url(#cLed)">470</text>
<text x="445" y="722.6" font-size="9" text-anchor="middle" fill="#222" clip-path="url(#cLed)">580</text>
<text x="495" y="722.6" font-size="9" text-anchor="middle" fill="#222" clip-path="url(#cLed)">690</text>
<text x="540" y="722.6" font-size="9" text-anchor="middle" fill="#222" clip-path="url(#cLed)">80</text>
<line x1="544.60" y1="366" x2="544.60" y2="457.5" stroke="#c4c4c4" stroke-width="0.7"/>
<line x1="556.05" y1="366" x2="556.05" y2="457.5" stroke="#c4c4c4" stroke-width="0.7"/>
<line x1="567.50" y1="366" x2="567.50" y2="457.5" stroke="#c4c4c4" stroke-width="0.7"/>
<line x1="578.95" y1="366" x2="578.95" y2="457.5" stroke="#c4c4c4" stroke-width="0.7"/>
<line x1="590.40" y1="366" x2="590.40" y2="457.5" stroke="#c4c4c4" stroke-width="0.7"/>
<line x1="601.85" y1="366" x2="601.85" y2="457.5" stroke="#c4c4c4" stroke-width="0.7"/>
<line x1="613.30" y1="366" x2="613.30" y2="457.5" stroke="#c4c4c4" stroke-width="0.7"/>
<line x1="624.75" y1="366" x2="624.75" y2="457.5" stroke="#c4c4c4" stroke-width="0.7"/>
<line x1="636.20" y1="366" x2="636.20" y2="457.5" stroke="#c4c4c4" stroke-width="0.7"/>
<line x1="647.65" y1="366" x2="647.65" y2="457.5" stroke="#c4c4c4" stroke-width="0.7"/>
<line x1="659.10" y1="366" x2="659.10" y2="457.5" stroke="#c4c4c4" stroke-width="0.7"/>
<line x1="670.55" y1="366" x2="670.55" y2="457.5" stroke="#c4c4c4" stroke-width="0.7"/>
<line x1="682.00" y1="366" x2="682.00" y2="457.5" stroke="#c4c4c4" stroke-width="0.7"/>
<line x1="693.45" y1="366" x2="693.45" y2="457.5" stroke="#c4c4c4" stroke-width="0.7"/>
<line x1="704.90" y1="366" x2="704.90" y2="457.5" stroke="#c4c4c4" stroke-width="0.7"/>
<line x1="716.35" y1="366" x2="716.35" y2="457.5" stroke="#c4c4c4" stroke-width="0.7"/>
<line x1="544.6" y1="457.70" x2="716" y2="457.70" stroke="#c4c4c4" stroke-width="0.7"/>
<line x1="544.6" y1="447.78" x2="716" y2="447.78" stroke="#c4c4c4" stroke-width="0.7"/>
<line x1="544.6" y1="437.86" x2="716" y2="437.86" stroke="#c4c4c4" stroke-width="0.7"/>
<line x1="544.6" y1="427.94" x2="716" y2="427.94" stroke="#c4c4c4" stroke-width="0.7"/>
<line x1="544.6" y1="418.02" x2="716" y2="418.02" stroke="#c4c4c4" stroke-width="0.7"/>
<line x1="544.6" y1="408.10" x2="716" y2="408.10" stroke="#c4c4c4" stroke-width="0.7"/>
<line x1="544.6" y1="398.18" x2="716" y2="398.18" stroke="#c4c4c4" stroke-width="0.7"/>
<line x1="544.6" y1="388.26" x2="716" y2="388.26" stroke="#c4c4c4" stroke-width="0.7"/>
<line x1="544.6" y1="378.34" x2="716" y2="378.34" stroke="#c4c4c4" stroke-width="0.7"/>
<line x1="544.6" y1="366.1" x2="716" y2="366.1" stroke="#b8b8b8" stroke-width="0.7"/>
<path d="M556.03,457.71 L557.10,454.66 L558.32,451.60 L559.08,447.79 L559.85,445.50 L561.07,443.21 L562.14,439.39 L562.90,436.34 L564.12,437.86 L565.19,434.81 L565.95,435.57 L566.72,431.76 L567.48,432.52 L568.24,430.23 L569.31,428.70 L570.53,425.65 L571.30,426.41 L572.06,421.07 L572.98,422.60 L573.59,418.02 L574.81,421.83 L575.88,421.07 L576.64,416.49 L577.40,413.44 L578.17,405.80 L579.08,402.75 L580.00,400.46 L581.22,400.00 L582.75,398.93 L584.27,399.69 L584.89,405.80 L585.34,411.91 L585.80,407.33 L586.11,404.27 L586.72,396.64 L587.33,392.06 L588.09,389.01 L588.85,386.72 L589.62,384.43 L590.38,382.90 L591.60,384.43 L592.67,383.66 L593.44,382.60 L594.20,381.37 L595.27,381.37 L596.49,379.85 L597.71,381.37 L598.78,382.14 L599.85,381.07 L601.07,380.61 L601.98,382.90 L602.60,382.90 L603.36,385.19 L604.12,387.48 L605.34,384.43 L606.41,382.90 L607.48,384.12 L608.70,384.43 L610.23,383.82 L611.76,384.12 L613.28,384.73 L614.81,385.19 L616.34,386.26 L617.86,386.72 L619.08,386.87 L620.15,387.48 L620.92,389.01 L621.68,389.77 L622.44,389.01 L623.21,388.24 L624.27,387.48 L625.50,387.48 L627.02,388.70 L628.55,389.77 L630.08,390.23 L631.60,391.30 L633.13,392.37 L634.66,392.82 L636.18,393.89 L637.71,394.35 L639.24,393.28 L639.85,394.81 L641.37,395.11 L642.60,396.64 L643.66,398.17 L644.43,400.46 L645.19,401.98 L645.95,398.93 L646.72,398.17 L647.79,399.39 L649.01,400.46 L649.62,403.51 L650.08,405.80 L650.69,410.38 L651.30,412.67 L652.06,411.91 L652.82,410.38 L653.59,406.56 L654.35,404.27 L655.42,402.75 L656.64,401.98 L657.86,402.29 L658.93,402.75 L659.69,404.27 L660.15,405.80 L660.61,424.12 L660.92,433.28 L661.68,434.81 L662.14,421.07 L662.44,405.80 L663.36,405.19 L664.27,405.04 L665.50,406.56 L666.56,408.09 L667.63,409.16 L668.85,409.62 L670.08,409.77 L671.15,410.38 L671.91,415.73 L672.67,419.54 L673.44,421.37 L674.20,422.60 L674.96,419.54 L675.73,416.49 L676.79,414.66 L678.02,413.44 L679.24,414.05 L680.31,414.20 L681.07,413.13 L681.83,412.67 L682.90,413.74 L684.12,414.20 L685.65,414.96 L687.18,415.73 L688.40,416.18 L689.47,416.49 L690.23,420.31 L690.99,424.12 L691.76,425.95 L692.52,427.18 L693.28,428.09 L694.05,428.70 L694.81,430.53 L695.57,431.76 L696.34,429.47 L697.10,427.94 L697.56,433.28 L698.17,439.39 L698.78,447.02 L699.39,453.13 L700.15,452.82 L700.92,451.60 L701.68,447.79 L702.44,443.97 L703.66,443.21 L704.73,442.44 L705.50,439.39 L706.26,436.34 L707.02,433.28 L707.79,430.23 L708.85,431.45 L710.08,431.76 L710.84,428.70 L711.60,425.65 L712.52,424.73 L713.44,424.43 L714.96,424.89 L715.42,457.71 L715.42,457.60 L556.03,457.60 Z" fill="url(#gSun)"/>
<rect x="543.8" y="456.9" width="172.5" height="1.2" fill="#222"/>
<rect x="718.2" y="456.8" width="1.8" height="1.6" fill="#222"/>
<rect x="544.1" y="365.5" width="0.9" height="92.5" fill="#666"/>
<text x="544.90" y="464" font-size="3.9" text-anchor="middle" fill="#555">250</text>
<text x="556.35" y="464" font-size="3.9" text-anchor="middle" fill="#555">300</text>
<text x="567.80" y="464" font-size="3.9" text-anchor="middle" fill="#555">350</text>
<text x="579.25" y="464" font-size="3.9" text-anchor="middle" fill="#555">400</text>
<text x="590.70" y="464" font-size="3.9" text-anchor="middle" fill="#555">450</text>
<text x="602.15" y="464" font-size="3.9" text-anchor="middle" fill="#555">500</text>
<text x="613.60" y="464" font-size="3.9" text-anchor="middle" fill="#555">550</text>
<text x="625.05" y="464" font-size="3.9" text-anchor="middle" fill="#555">600</text>
<text x="636.50" y="464" font-size="3.9" text-anchor="middle" fill="#555">650</text>
<text x="647.95" y="464" font-size="3.9" text-anchor="middle" fill="#555">700</text>
<text x="659.40" y="464" font-size="3.9" text-anchor="middle" fill="#555">750</text>
<text x="670.85" y="464" font-size="3.9" text-anchor="middle" fill="#555">800</text>
<text x="682.30" y="464" font-size="3.9" text-anchor="middle" fill="#555">850</text>
<text x="693.75" y="464" font-size="3.9" text-anchor="middle" fill="#555">900</text>
<text x="705.20" y="464" font-size="3.9" text-anchor="middle" fill="#555">950</text>
<text x="716.65" y="464" font-size="3.9" text-anchor="middle" fill="#555">1000</text>
<text x="666.8" y="376.9" font-size="13" font-weight="bold" text-anchor="middle" fill="#111">Natural Sun at</text>
<text x="666.4" y="391.7" font-size="13" font-weight="bold" text-anchor="middle" fill="#111">Noon</text>
<path d="M544.86,544.03 L545.14,537.78 L545.97,535.00 L546.94,532.22 L548.33,529.86 L549.72,528.06 L551.39,526.94 L553.19,525.97 L554.17,523.89 L555.28,521.11 L556.25,518.61 L557.36,516.94 L559.03,515.56 L560.83,514.17 L562.50,513.06 L564.31,512.08 L566.11,511.94 L567.78,511.39 L568.75,509.44 L569.86,507.22 L571.25,504.44 L572.64,501.67 L574.31,498.89 L576.11,496.11 L577.78,493.89 L579.58,491.94 L580.56,490.56 L581.67,489.86 L583.75,489.17 L585.83,488.47 L586.81,485.69 L587.92,482.22 L588.89,481.11 L590.00,480.83 L590.83,481.67 L591.67,482.22 L592.50,479.44 L593.47,476.67 L594.44,478.89 L595.56,480.83 L596.94,481.39 L598.33,481.53 L599.17,478.06 L600.00,473.89 L600.42,469.72 L600.83,466.25 L601.39,468.61 L601.81,471.11 L602.50,473.19 L603.19,475.28 L604.17,478.75 L605.28,482.22 L605.97,484.17 L606.67,485.69 L607.78,484.31 L608.75,482.92 L609.72,481.11 L610.83,479.44 L611.53,475.97 L612.22,472.50 L612.78,469.17 L613.19,466.25 L613.75,468.61 L614.31,471.11 L615.00,473.89 L615.69,476.67 L616.39,476.39 L617.08,475.97 L617.78,473.89 L618.47,472.50 L619.03,476.67 L619.44,480.83 L619.86,487.78 L620.28,494.72 L620.69,498.89 L620.97,501.67 L621.25,496.11 L621.67,487.78 L622.22,478.06 L622.64,471.11 L623.06,467.64 L623.33,466.25 L624.72,466.11 L626.11,466.25 L627.50,466.53 L628.89,466.94 L630.00,468.33 L630.97,469.72 L631.94,470.83 L633.06,471.81 L634.44,472.50 L635.83,473.19 L637.92,474.17 L640.00,475.28 L642.22,477.36 L643.89,476.94 L645.69,476.67 L647.08,473.89 L648.47,471.81 L649.44,471.94 L650.56,472.50 L651.67,473.89 L652.64,475.28 L653.47,473.33 L654.31,471.81 L654.86,474.17 L655.42,476.67 L656.39,478.89 L657.50,480.83 L658.89,482.64 L660.28,484.31 L661.25,487.78 L662.36,491.94 L663.75,495.56 L665.14,498.89 L666.81,499.72 L668.61,500.28 L670.00,502.78 L671.39,505.14 L672.50,506.39 L673.47,507.22 L674.17,506.11 L674.86,505.14 L675.56,506.94 L676.25,508.61 L677.22,510.83 L678.33,512.78 L679.44,508.61 L680.42,504.44 L681.11,507.22 L681.81,510.00 L682.78,505.83 L683.61,502.36 L684.44,505.56 L685.28,508.61 L686.39,511.11 L687.36,513.47 L688.33,514.31 L689.44,514.86 L690.56,516.67 L691.53,518.33 L692.92,519.44 L694.31,520.42 L696.11,521.81 L696.11,544.03 L696.11,544.10 L544.86,544.10 Z" fill="url(#gCmh)"/>
<rect x="540" y="540.6" width="2.2" height="1.5" fill="#111"/>
<text x="690.2" y="484.7" font-size="13" font-weight="bold" text-anchor="middle" fill="#111">CMH</text>
<path d="M542.78,630.28 L542.78,615.69 L543.47,618.06 L544.17,620.56 L545.28,613.61 L546.25,606.67 L547.22,611.11 L548.33,615.69 L549.72,609.17 L551.11,602.50 L552.50,595.56 L553.89,588.61 L555.28,583.75 L556.25,589.31 L557.36,595.56 L558.75,604.58 L560.14,613.61 L561.11,614.72 L562.22,615.69 L562.92,617.08 L563.61,618.47 L565.00,615.69 L566.39,612.92 L567.36,615.28 L568.47,617.78 L569.58,619.86 L570.83,621.94 L571.53,609.44 L572.22,595.56 L572.78,583.06 L573.33,571.25 L574.03,583.06 L574.72,595.56 L575.97,606.67 L577.22,617.78 L578.33,620.56 L579.58,623.33 L580.56,617.78 L581.67,612.22 L583.06,603.61 L584.44,594.86 L585.42,603.61 L586.53,612.22 L587.22,615.28 L587.92,618.47 L588.89,618.89 L590.00,619.17 L591.39,620.56 L593.06,618.06 L594.86,615.69 L595.83,612.50 L596.94,609.44 L597.92,599.03 L599.03,588.61 L599.86,582.78 L600.69,576.81 L601.25,586.11 L601.81,595.56 L602.50,608.06 L603.19,620.56 L604.17,620.97 L605.28,621.25 L606.67,620.97 L608.06,620.56 L608.61,608.06 L609.17,595.56 L609.86,581.67 L610.56,567.78 L611.11,556.67 L611.67,545.56 L612.22,556.67 L612.78,567.78 L613.19,580.56 L613.61,593.47 L614.58,593.89 L615.69,594.17 L616.67,596.25 L617.78,598.33 L618.75,602.50 L619.86,606.67 L620.56,608.06 L621.39,615.69 L622.08,619.17 L623.06,615.00 L624.17,609.44 L625.14,598.33 L626.25,587.22 L626.94,581.67 L627.50,588.61 L628.06,595.56 L628.89,605.28 L629.72,615.00 L630.69,617.78 L631.81,620.56 L632.50,616.39 L633.19,612.22 L633.89,596.94 L634.58,581.67 L635.14,567.78 L635.69,553.89 L636.39,546.25 L636.81,553.89 L637.08,560.83 L637.64,578.19 L638.06,595.56 L638.75,603.89 L639.44,612.22 L640.83,616.39 L642.22,620.56 L643.89,622.64 L645.69,624.72 L646.67,624.03 L647.78,623.33 L648.75,618.47 L649.86,613.61 L650.97,610.56 L652.22,607.36 L653.06,610.56 L654.03,613.61 L655.00,617.78 L656.11,621.94 L657.78,623.33 L659.58,624.72 L661.25,625.83 L663.06,626.81 L664.44,626.39 L665.83,625.83 L666.81,626.67 L667.92,627.50 L669.31,626.11 L670.69,624.72 L671.39,622.22 L672.08,619.86 L672.78,621.94 L673.47,624.03 L674.44,624.72 L675.56,625.42 L676.94,624.72 L678.33,624.03 L680.00,625.42 L681.81,626.81 L684.17,627.50 L686.67,628.19 L689.44,628.61 L692.22,628.89 L697.78,628.89 L703.33,628.61 L708.89,628.33 L713.06,627.50 L714.44,626.81 L715.83,626.11 L717.92,625.83 L720.00,626.81 L720.00,631.10 L542.78,631.10 Z" fill="url(#gMh)"/>
<rect x="542.4" y="630.7" width="177.6" height="0.6" fill="#402020" fill-opacity="0.55"/>
<rect x="543.10" y="631" width="0.8" height="2.1" fill="#3a3a3a"/>
<rect x="553.48" y="631" width="0.8" height="2.1" fill="#3a3a3a"/>
<rect x="563.86" y="631" width="0.8" height="2.1" fill="#3a3a3a"/>
<rect x="574.24" y="631" width="0.8" height="2.1" fill="#3a3a3a"/>
<rect x="584.62" y="631" width="0.8" height="2.1" fill="#3a3a3a"/>
<rect x="595.00" y="631" width="0.8" height="2.1" fill="#3a3a3a"/>
<rect x="605.38" y="631" width="0.8" height="2.1" fill="#3a3a3a"/>
<rect x="615.76" y="631" width="0.8" height="2.1" fill="#3a3a3a"/>
<rect x="626.14" y="631" width="0.8" height="2.1" fill="#3a3a3a"/>
<rect x="636.52" y="631" width="0.8" height="2.1" fill="#3a3a3a"/>
<rect x="646.90" y="631" width="0.8" height="2.1" fill="#3a3a3a"/>
<rect x="657.28" y="631" width="0.8" height="2.1" fill="#3a3a3a"/>
<rect x="667.66" y="631" width="0.8" height="2.1" fill="#3a3a3a"/>
<rect x="678.04" y="631" width="0.8" height="2.1" fill="#3a3a3a"/>
<rect x="688.42" y="631" width="0.8" height="2.1" fill="#3a3a3a"/>
<rect x="698.80" y="631" width="0.8" height="2.1" fill="#3a3a3a"/>
<rect x="709.18" y="631" width="0.8" height="2.1" fill="#3a3a3a"/>
<rect x="719.56" y="631" width="0.8" height="2.1" fill="#3a3a3a"/>
<text x="678" y="558.8" font-size="13.2" font-weight="bold" text-anchor="middle" fill="#111">Metal Halide</text>
<path d="M562.50,720.50 L566.25,719.00 L570.00,718.00 L577.50,717.00 L585.00,716.25 L587.50,715.50 L590.00,716.25 L590.62,714.38 L591.25,712.50 L591.88,711.25 L592.50,710.62 L593.12,712.00 L593.75,713.75 L594.62,715.50 L595.62,716.88 L597.75,717.25 L600.00,717.50 L601.00,716.50 L601.88,715.00 L602.50,710.00 L603.12,705.00 L603.75,703.00 L604.38,701.88 L605.00,703.25 L605.62,705.00 L606.12,711.25 L606.50,716.25 L607.50,717.00 L608.75,717.50 L609.38,716.25 L610.00,714.38 L610.62,716.00 L611.25,717.50 L613.12,718.25 L615.00,718.75 L617.50,718.25 L620.00,717.50 L621.50,715.25 L623.12,712.50 L624.38,710.25 L625.62,707.50 L626.25,700.62 L626.88,692.50 L627.50,680.00 L628.12,667.50 L628.62,657.50 L629.12,648.75 L629.62,644.75 L630.00,642.50 L630.38,647.50 L630.88,655.00 L631.38,662.75 L631.88,670.00 L632.50,669.00 L633.12,667.50 L633.62,661.25 L634.00,655.00 L634.38,649.75 L634.75,645.00 L635.25,642.50 L635.62,648.75 L636.00,655.00 L636.38,662.00 L636.62,667.50 L637.00,661.25 L637.25,655.00 L637.75,646.88 L638.12,640.00 L638.50,636.25 L638.75,634.38 L639.50,635.00 L639.88,639.75 L640.25,645.00 L640.75,653.12 L641.25,661.25 L641.88,667.75 L642.50,673.75 L643.12,677.75 L643.75,681.25 L644.38,679.25 L645.00,677.50 L645.88,675.00 L646.38,678.50 L646.88,682.50 L647.50,688.75 L648.12,695.00 L649.00,699.00 L650.00,702.50 L651.25,704.50 L652.50,706.25 L654.38,708.00 L656.25,709.38 L658.12,710.38 L660.00,711.25 L661.88,711.62 L663.75,711.88 L664.75,711.50 L665.62,711.25 L666.50,711.88 L667.50,712.50 L669.38,713.50 L671.25,714.38 L673.75,715.12 L676.25,715.62 L680.00,716.25 L685.00,715.50 L690.00,717.00 L696.25,717.00 L697.50,715.00 L699.00,712.00 L700.00,709.00 L701.00,709.00 L702.00,713.00 L703.75,716.00 L707.50,716.75 L712.50,717.00 L713.00,720.50 L713.00,721.00 L562.50,721.00 Z" fill="url(#gHps)"/>
<text x="675" y="649.8" font-size="13" font-weight="bold" text-anchor="middle" fill="#111">HPS</text>
<rect x="543.6" y="458" width="0.8" height="173" fill="#aaa"/>
<rect x="540.5" y="553.6" width="3" height="0.7" fill="#888"/></g>
</svg>
</body></html>
